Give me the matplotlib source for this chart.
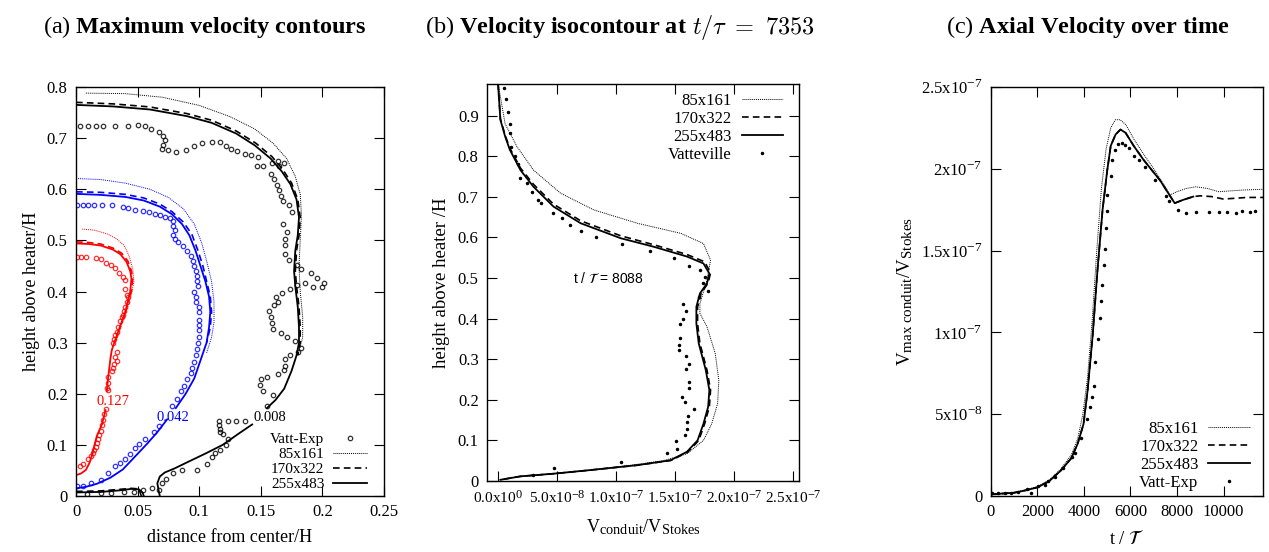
import numpy as np
import matplotlib
matplotlib.use("Agg")
import matplotlib.pyplot as plt
import matplotlib._mathtext as mathtext_core

plt.rcParams['font.family'] = ['Liberation Serif', 'DejaVu Serif']
plt.rcParams['mathtext.fontset'] = 'custom'
plt.rcParams['mathtext.rm'] = 'Liberation Serif'
plt.rcParams['mathtext.it'] = 'Liberation Serif:italic'
plt.rcParams['mathtext.bf'] = 'Liberation Serif:bold'
# gnuplot-like sub/superscripts are a bit larger than mathtext's default
mathtext_core.SHRINK_FACTOR = 0.8

# ---------------- (a) contours: distance from center / height ----------------
# 0.127 contour (red)
red_fine_top_x = [0.0, 0.010, 0.020, 0.030, 0.036, 0.041, 0.044, 0.045, 0.044, 0.042, 0.040, 0.037, 0.034, 0.031, 0.029, 0.028, 0.027, 0.026, 0.025]
red_fine_top_y = [0.494, 0.493, 0.490, 0.482, 0.473, 0.458, 0.440, 0.425, 0.400, 0.380, 0.360, 0.340, 0.320, 0.300, 0.285, 0.270, 0.250, 0.230, 0.205]
red_fine_bot_x = [0.024, 0.021, 0.017, 0.015, 0.013, 0.011, 0.008, 0.004, 0.0]
red_fine_bot_y = [0.168, 0.140, 0.118, 0.100, 0.080, 0.065, 0.051, 0.044, 0.041]
red_mid_x = [0.0, 0.010, 0.020, 0.030, 0.037, 0.042, 0.045, 0.046, 0.045, 0.042, 0.040]
red_mid_y = [0.497, 0.496, 0.493, 0.485, 0.475, 0.460, 0.440, 0.425, 0.400, 0.380, 0.360]
red_coarse_x = [0.005, 0.015, 0.025, 0.033, 0.039, 0.043, 0.046, 0.047, 0.045, 0.042, 0.039, 0.035, 0.032]
red_coarse_y = [0.522, 0.520, 0.513, 0.503, 0.490, 0.470, 0.445, 0.420, 0.395, 0.370, 0.350, 0.320, 0.300]
red_exp_x = [0.001, 0.004, 0.008, 0.016, 0.020, 0.024, 0.028, 0.032, 0.035, 0.038, 0.040, 0.040, 0.041, 0.042, 0.041,
             0.040, 0.039, 0.038, 0.037, 0.036, 0.034, 0.033, 0.032, 0.031, 0.030, 0.033, 0.032, 0.033, 0.031, 0.030,
             0.029, 0.026, 0.026, 0.025, 0.026, 0.024, 0.023, 0.022, 0.021, 0.020, 0.019, 0.018, 0.017, 0.016, 0.015,
             0.014, 0.012, 0.010, 0.006, 0.003]
red_exp_y = [0.468, 0.467, 0.467, 0.465, 0.464, 0.455, 0.452, 0.446, 0.437, 0.429, 0.422, 0.405, 0.393, 0.389, 0.380,
             0.370, 0.362, 0.355, 0.350, 0.342, 0.330, 0.320, 0.315, 0.308, 0.300, 0.282, 0.272, 0.265, 0.258, 0.250,
             0.245, 0.232, 0.222, 0.212, 0.207, 0.170, 0.160, 0.148, 0.138, 0.128, 0.120, 0.112, 0.104, 0.096, 0.090,
             0.085, 0.078, 0.072, 0.062, 0.058]

# 0.042 contour (blue)
blue_fine_top_x = [0.0, 0.020, 0.040, 0.055, 0.068, 0.078, 0.086, 0.092, 0.097, 0.101, 0.105, 0.108, 0.109, 0.108, 0.106, 0.101, 0.096, 0.089, 0.081]
blue_fine_top_y = [0.591, 0.589, 0.585, 0.578, 0.566, 0.551, 0.532, 0.510, 0.480, 0.450, 0.420, 0.390, 0.360, 0.330, 0.300, 0.265, 0.230, 0.200, 0.172]
blue_fine_bot_x = [0.074, 0.066, 0.058, 0.049, 0.038, 0.028, 0.017, 0.008, 0.0]
blue_fine_bot_y = [0.150, 0.125, 0.103, 0.080, 0.052, 0.036, 0.024, 0.018, 0.015]
blue_mid_x = [0.0, 0.020, 0.040, 0.055, 0.068, 0.078, 0.087, 0.094, 0.099, 0.103, 0.106, 0.109, 0.110, 0.109, 0.106]
blue_mid_y = [0.595, 0.594, 0.590, 0.583, 0.571, 0.556, 0.536, 0.512, 0.480, 0.450, 0.420, 0.390, 0.360, 0.330, 0.300]
blue_coarse_x = [0.0, 0.020, 0.040, 0.060, 0.075, 0.087, 0.096, 0.102, 0.106, 0.110, 0.112, 0.112, 0.110, 0.106]
blue_coarse_y = [0.621, 0.619, 0.612, 0.600, 0.584, 0.562, 0.532, 0.495, 0.460, 0.420, 0.380, 0.340, 0.310, 0.280]
blue_exp_x = [0.001, 0.006, 0.010, 0.015, 0.021, 0.029, 0.038, 0.042, 0.048, 0.054, 0.059, 0.064, 0.068, 0.072, 0.076,
              0.079, 0.079, 0.080, 0.079, 0.080, 0.083, 0.087, 0.090, 0.093, 0.095, 0.096, 0.097, 0.098, 0.098, 0.099,
              0.096, 0.097, 0.097, 0.100, 0.100, 0.100, 0.100, 0.100, 0.100, 0.099, 0.098, 0.097, 0.096, 0.094, 0.093,
              0.090, 0.088, 0.085, 0.082, 0.078, 0.067, 0.063, 0.056, 0.051, 0.048, 0.044, 0.040, 0.036, 0.032, 0.026,
              0.020, 0.012, 0.006, 0.001]
blue_exp_y = [0.570, 0.569, 0.570, 0.569, 0.570, 0.570, 0.565, 0.563, 0.560, 0.558, 0.555, 0.552, 0.549, 0.546, 0.544,
              0.538, 0.528, 0.520, 0.510, 0.503, 0.497, 0.489, 0.480, 0.470, 0.460, 0.450, 0.440, 0.430, 0.420, 0.410,
              0.400, 0.390, 0.380, 0.370, 0.360, 0.345, 0.335, 0.324, 0.312, 0.300, 0.288, 0.275, 0.262, 0.250, 0.240,
              0.228, 0.215, 0.205, 0.190, 0.177, 0.136, 0.125, 0.112, 0.102, 0.093, 0.083, 0.073, 0.064, 0.058, 0.046,
              0.031, 0.026, 0.020, 0.020]

# 0.008 contour (black)
blk_fine_top_x = [0.0, 0.030, 0.060, 0.090, 0.110, 0.130, 0.145, 0.158, 0.167, 0.174, 0.179, 0.181, 0.180, 0.178, 0.177,
                  0.178, 0.180, 0.181, 0.181, 0.179, 0.175, 0.169, 0.162, 0.155]
blk_fine_top_y = [0.765, 0.762, 0.756, 0.743, 0.730, 0.709, 0.686, 0.660, 0.635, 0.610, 0.580, 0.545, 0.510, 0.480, 0.440,
                  0.410, 0.370, 0.330, 0.300, 0.275, 0.245, 0.210, 0.188, 0.172]
blk_fine_bot_x = [0.143, 0.132, 0.119, 0.105, 0.092, 0.080, 0.072, 0.068, 0.066, 0.067, 0.068]
blk_fine_bot_y = [0.140, 0.122, 0.100, 0.083, 0.068, 0.054, 0.046, 0.038, 0.025, 0.012, 0.0]
blk_fine_low_x = [0.0, 0.020, 0.035, 0.045, 0.051, 0.054, 0.055]
blk_fine_low_y = [0.007, 0.008, 0.011, 0.014, 0.013, 0.007, 0.0]
blk_mid_x = [0.0, 0.030, 0.060, 0.090, 0.110, 0.130, 0.146, 0.159, 0.168, 0.175, 0.180, 0.182, 0.181, 0.179, 0.178,
             0.179, 0.181, 0.182, 0.182, 0.180]
blk_mid_y = [0.770, 0.767, 0.761, 0.748, 0.735, 0.714, 0.690, 0.664, 0.638, 0.612, 0.580, 0.545, 0.510, 0.480, 0.440,
             0.410, 0.370, 0.330, 0.300, 0.275]
blk_mid_low_x = [0.0, 0.020, 0.035, 0.045, 0.051, 0.053]
blk_mid_low_y = [0.009, 0.010, 0.013, 0.015, 0.014, 0.0]
blk_coarse_x = [0.008, 0.040, 0.070, 0.100, 0.125, 0.145, 0.160, 0.171, 0.178, 0.182, 0.183, 0.182, 0.181, 0.182, 0.184, 0.184, 0.181]
blk_coarse_y = [0.788, 0.787, 0.780, 0.764, 0.742, 0.718, 0.690, 0.660, 0.625, 0.590, 0.550, 0.500, 0.450, 0.400, 0.350, 0.310, 0.285]
blk_exp_x = [0.003, 0.010, 0.016, 0.022, 0.032, 0.042, 0.050, 0.056, 0.061, 0.067, 0.071, 0.072, 0.071, 0.070, 0.075,
             0.081, 0.089, 0.096, 0.102, 0.110, 0.117, 0.122, 0.126, 0.131, 0.137, 0.142, 0.148, 0.147, 0.152, 0.159,
             0.164, 0.169, 0.165, 0.158, 0.161, 0.163, 0.165, 0.166, 0.168, 0.173, 0.175, 0.168, 0.171, 0.170, 0.170,
             0.170, 0.173, 0.179, 0.183, 0.191, 0.196, 0.186, 0.179, 0.192, 0.200, 0.201, 0.174, 0.167, 0.162, 0.164,
             0.161, 0.157, 0.158, 0.159, 0.160, 0.166, 0.171, 0.178, 0.183, 0.180, 0.174, 0.170, 0.170, 0.169, 0.164,
             0.155, 0.150, 0.149, 0.152, 0.160, 0.155, 0.116, 0.123, 0.130, 0.137, 0.116, 0.117, 0.117, 0.119, 0.123,
             0.122, 0.117, 0.113, 0.110, 0.106, 0.098, 0.086, 0.079, 0.073, 0.070, 0.062, 0.067, 0.054, 0.047, 0.039,
             0.028, 0.020, 0.009]
blk_exp_y = [0.723, 0.723, 0.724, 0.724, 0.724, 0.724, 0.725, 0.723, 0.717, 0.712, 0.704, 0.696, 0.686, 0.679, 0.677,
             0.672, 0.676, 0.684, 0.691, 0.693, 0.693, 0.684, 0.679, 0.674, 0.668, 0.667, 0.663, 0.645, 0.645, 0.651,
             0.655, 0.651, 0.645, 0.629, 0.621, 0.608, 0.598, 0.587, 0.578, 0.570, 0.556, 0.533, 0.516, 0.502, 0.491,
             0.473, 0.461, 0.451, 0.445, 0.437, 0.426, 0.417, 0.413, 0.409, 0.408, 0.417, 0.404, 0.398, 0.389, 0.379,
             0.373, 0.361, 0.351, 0.338, 0.327, 0.318, 0.311, 0.304, 0.290, 0.281, 0.275, 0.268, 0.255, 0.246, 0.239,
             0.233, 0.229, 0.218, 0.205, 0.198, 0.177, 0.147, 0.147, 0.146, 0.146, 0.138, 0.131, 0.126, 0.122, 0.111,
             0.099, 0.090, 0.084, 0.077, 0.062, 0.051, 0.051, 0.046, 0.033, 0.025, 0.015, 0.011, 0.011, 0.008, 0.008,
             0.005, 0.005, 0.004]

# ---------------- (b) velocity profile (units of 1e-7) ----------------
vb_fine = [0.0, 0.02, 0.06, 0.10, 0.19, 0.30, 0.47, 0.70, 1.04, 1.32, 1.60, 1.74, 1.79, 1.77, 1.71, 1.68, 1.68, 1.70,
           1.76, 1.79, 1.78, 1.74, 1.69, 1.60, 1.46, 1.18, 0.75, 0.47, 0.19, 0.02]
hb_fine = [0.98, 0.89, 0.849, 0.816, 0.766, 0.725, 0.676, 0.635, 0.598, 0.577, 0.553, 0.536, 0.511, 0.487, 0.462, 0.429,
           0.388, 0.339, 0.273, 0.224, 0.183, 0.141, 0.10, 0.072, 0.051, 0.039, 0.026, 0.018, 0.0115, 0.003]
vb_mid = [0.0, 0.02, 0.06, 0.10, 0.19, 0.30, 0.47, 0.70, 1.04, 1.32, 1.60, 1.75, 1.80, 1.78, 1.72, 1.69, 1.69, 1.71,
          1.77, 1.80, 1.79, 1.75, 1.70, 1.61, 1.47, 1.18, 0.75, 0.47, 0.19, 0.02]
hb_mid = [0.98, 0.892, 0.852, 0.82, 0.771, 0.731, 0.682, 0.641, 0.604, 0.582, 0.558, 0.54, 0.513, 0.488, 0.462, 0.429,
          0.388, 0.339, 0.273, 0.224, 0.183, 0.141, 0.10, 0.072, 0.051, 0.039, 0.026, 0.018, 0.0115, 0.003]
vb_coarse = [0.0, 0.06, 0.16, 0.30, 0.53, 0.81, 1.18, 1.55, 1.74, 1.80, 1.77, 1.71, 1.71, 1.77, 1.84, 1.87, 1.86, 1.81,
             1.74, 1.60, 1.40, 1.10, 0.75, 0.45, 0.19, 0.02]
hb_coarse = [0.98, 0.88, 0.824, 0.766, 0.709, 0.668, 0.635, 0.61, 0.585, 0.544, 0.495, 0.437, 0.413, 0.38, 0.314, 0.248,
             0.191, 0.141, 0.10, 0.067, 0.050, 0.038, 0.026, 0.018, 0.0115, 0.003]
vb_exp = [0.054, 0.07, 0.085, 0.105, 0.10, 0.113, 0.147, 0.167, 0.19, 0.246, 0.29, 0.336, 0.364, 0.466, 0.54, 0.61, 0.70,
          0.83, 1.05, 1.285, 1.49, 1.62, 1.71, 1.75, 1.74, 1.78, 1.70, 1.565, 1.59, 1.565, 1.54, 1.54, 1.53, 1.53, 1.59,
          1.62, 1.59, 1.62, 1.62, 1.56, 1.58, 1.66, 1.61, 1.60, 1.60, 1.58, 1.51, 1.52, 1.43, 1.045, 0.47, 0.30]
hb_exp = [0.968, 0.94, 0.91, 0.88, 0.857, 0.824, 0.80, 0.78, 0.746, 0.733, 0.713, 0.692, 0.684, 0.661, 0.647, 0.63, 0.616,
          0.60, 0.584, 0.567, 0.549, 0.53, 0.521, 0.503, 0.487, 0.469, 0.454, 0.435, 0.419, 0.40, 0.387, 0.353, 0.336,
          0.322, 0.308, 0.288, 0.275, 0.245, 0.228, 0.207, 0.195, 0.178, 0.16, 0.146, 0.127, 0.114, 0.098, 0.08, 0.069,
          0.047, 0.033, 0.016]

# ---------------- (c) max axial velocity vs time (units of 1e-7) ----------------
tc_fine = [0, 500, 1000, 1500, 2000, 2500, 3000, 3450, 3730, 3980, 4160, 4370, 4580, 4800, 5000, 5150, 5360, 5570,
           5790, 6140, 6560, 7270, 7900, 8260, 8700]
vc_fine = [0.01, 0.015, 0.02, 0.035, 0.053, 0.09, 0.155, 0.23, 0.32, 0.44, 0.65, 0.975, 1.38, 1.75, 1.99, 2.14, 2.21,
           2.24, 2.22, 2.14, 2.055, 1.93, 1.79, 1.81, 1.83]
tc_mid = [0, 500, 1000, 1500, 2000, 2500, 3000, 3450, 3730, 3980, 4160, 4370, 4580, 4800, 5000, 5150, 5360, 5570, 5790,
          6140, 6560, 7270, 7900, 8260, 8700, 9000, 9500, 10000, 10500, 11000, 11700]
vc_mid = [0.01, 0.015, 0.02, 0.035, 0.053, 0.09, 0.155, 0.23, 0.32, 0.44, 0.65, 0.975, 1.38, 1.75, 1.99, 2.14, 2.21,
          2.24, 2.22, 2.14, 2.055, 1.93, 1.79, 1.81, 1.83, 1.835, 1.83, 1.815, 1.82, 1.825, 1.825]
tc_coarse = [0, 500, 1000, 1500, 2000, 2500, 3000, 3450, 3730, 3950, 4150, 4350, 4550, 4750, 4950, 5150, 5350, 5550,
             5800, 6150, 6560, 7000, 7400, 7700, 8000, 8400, 8800, 9300, 9800, 10300, 10800, 11700]
vc_coarse = [0.012, 0.017, 0.023, 0.038, 0.058, 0.097, 0.165, 0.25, 0.35, 0.50, 0.72, 1.07, 1.50, 1.88, 2.12, 2.25,
             2.30, 2.30, 2.27, 2.18, 2.09, 2.00, 1.91, 1.84, 1.86, 1.88, 1.89, 1.88, 1.86, 1.865, 1.87, 1.875]
tc_exp = [57, 297, 594, 877, 1160, 1570, 1711, 2037, 2320, 2461, 2744, 3098, 3479, 3621, 3876, 4116, 4257, 4328, 4413,
          4484, 4583, 4682, 4724, 4795, 4866, 4894, 4965, 4979, 5007, 5148, 5191, 5332, 5460, 5615, 5785, 5926, 6139,
          6351, 6634, 7058, 7525, 7666, 8048, 8402, 8826, 9392, 9816, 10170, 10523, 10806, 11160, 11372]
vc_exp = [0.016, 0.016, 0.020, 0.020, 0.022, 0.041, 0.020, 0.061, 0.067, 0.094, 0.114, 0.169, 0.237, 0.261, 0.353,
          0.471, 0.547, 0.604, 0.675, 0.818, 0.959, 1.087, 1.195, 1.291, 1.409, 1.511, 1.637, 1.743, 1.839, 1.953,
          2.051, 2.117, 2.153, 2.157, 2.147, 2.127, 2.080, 2.055, 2.011, 1.933, 1.831, 1.801, 1.746, 1.729, 1.733,
          1.739, 1.733, 1.733, 1.729, 1.744, 1.739, 1.744]

grid_labels = ['85x161', '170x322', '255x483']

DOT = (0, (1, 1))
DASH = (0, (4, 2.5))


def style_axes(ax, size):
    ax.tick_params(direction='in', top=True, right=True, length=7, width=0.8, labelsize=size, pad=6)
    for s in ax.spines.values():
        s.set_linewidth(1.0)


fig = plt.figure(figsize=(12.69, 5.52), dpi=100)

# ---------- panel (a) ----------
ax1 = fig.add_axes([0.0599, 0.1014, 0.2427, 0.741])
for col, fine, mid, coarse, exp in [
        ('red', [(red_fine_top_x, red_fine_top_y), (red_fine_bot_x, red_fine_bot_y)],
         [(red_mid_x, red_mid_y)], (red_coarse_x, red_coarse_y), (red_exp_x, red_exp_y)),
        ('blue', [(blue_fine_top_x, blue_fine_top_y), (blue_fine_bot_x, blue_fine_bot_y)],
         [(blue_mid_x, blue_mid_y)], (blue_coarse_x, blue_coarse_y), (blue_exp_x, blue_exp_y)),
        ('black', [(blk_fine_top_x, blk_fine_top_y), (blk_fine_bot_x, blk_fine_bot_y), (blk_fine_low_x, blk_fine_low_y)],
         [(blk_mid_x, blk_mid_y), (blk_mid_low_x, blk_mid_low_y)], (blk_coarse_x, blk_coarse_y), (blk_exp_x, blk_exp_y))]:
    ax1.plot(exp[0], exp[1], 'o', ms=3.2, mfc='none', mec=col, mew=0.9, alpha=0.8)
    ax1.plot(coarse[0], coarse[1], color=col, ls=DOT, lw=0.7)
    for xs, ys in mid:
        ax1.plot(xs, ys, color=col, ls=DASH, lw=1.2)
    for xs, ys in fine:
        ax1.plot(xs, ys, color=col, lw=1.3)

ax1.text(0.030, 0.185, '0.127', color='red', fontsize=10.5, ha='center', va='center')
ax1.text(0.079, 0.154, '0.042', color='blue', fontsize=10.5, ha='center', va='center')
ax1.text(0.157, 0.154, '0.008', color='black', fontsize=10.5, ha='center', va='center')

h_exp, = ax1.plot([], [], 'o', ms=3.2, mfc='none', mec='black', mew=0.9, alpha=0.8)
h1, = ax1.plot([], [], color='black', ls=DOT, lw=0.7)
h2, = ax1.plot([], [], color='black', ls=DASH, lw=1.2)
h3, = ax1.plot([], [], color='black', lw=1.3)
ax1.legend([h_exp, h1, h2, h3], ['Vatt-Exp'] + grid_labels, loc='lower right', bbox_to_anchor=(0.945, 0.012),
           frameon=False, markerfirst=False, fontsize=11, handlelength=2.2, handletextpad=0.6,
           labelspacing=0.08, borderpad=0, borderaxespad=0)
ax1.set_xlim(0, 0.25)
ax1.set_ylim(0, 0.8)
ax1.set_xticks([0, 0.05, 0.1, 0.15, 0.2, 0.25])
ax1.set_xticklabels(['0', '0.05', '0.1', '0.15', '0.2', '0.25'])
ax1.set_yticks(np.arange(0, 0.81, 0.1))
ax1.set_yticklabels(['0', '0.1', '0.2', '0.3', '0.4', '0.5', '0.6', '0.7', '0.8'])
ax1.set_xlabel('distance from center/H', fontsize=13, labelpad=6)
ax1.set_ylabel('height above heater/H', fontsize=13, labelpad=5)
style_axes(ax1, 12)

# ---------- panel (b) ----------
ax2 = fig.add_axes([0.3838, 0.1286, 0.2459, 0.7192])
ax2.plot(vb_coarse, hb_coarse, color='black', ls=DOT, lw=0.7, label=grid_labels[0])
ax2.plot(vb_mid, hb_mid, color='black', ls=DASH, lw=1.2, label=grid_labels[1])
ax2.plot(vb_fine, hb_fine, color='black', lw=1.3, label=grid_labels[2])
ax2.plot(vb_exp, hb_exp, '.', color='black', ms=3, label='Vatteville')
ax2.text(0.93, 0.5, r't / $\mathcal{T}$ = 8088', fontsize=10, ha='center', va='center',
         family='Liberation Sans', math_fontfamily='stix')
ax2.legend(loc='upper right', bbox_to_anchor=(0.949, 0.978), frameon=False, markerfirst=False, fontsize=12,
           handlelength=2.5, handletextpad=0.6, labelspacing=0.12, borderpad=0, borderaxespad=0)
ax2.set_xlim(-0.093, 2.55)
ax2.set_ylim(0, 0.978)
ax2.set_xticks([0, 0.5, 1.0, 1.5, 2.0, 2.5])
ax2.set_xticklabels([r'0.0x10$^{0}$', r'5.0x10$^{-8}$', r'1.0x10$^{-7}$', r'1.5x10$^{-7}$',
                     r'2.0x10$^{-7}$', r'2.5x10$^{-7}$'])
ax2.set_yticks(np.arange(0, 0.91, 0.1))
ax2.set_yticklabels(['0', '0.1', '0.2', '0.3', '0.4', '0.5', '0.6', '0.7', '0.8', '0.9'])
ax2.set_xlabel(r'V$_{\rm conduit}$/V$_{\rm Stokes}$', fontsize=13, labelpad=8)
ax2.set_ylabel('height above heater /H', fontsize=13.5, labelpad=6)
style_axes(ax2, 12)
ax2.tick_params(axis='x', labelsize=11)

# ---------- panel (c) ----------
ax3 = fig.add_axes([0.7809, 0.1014, 0.2144, 0.741])
ax3.plot(tc_coarse, vc_coarse, color='black', ls=DOT, lw=0.7, label=grid_labels[0])
ax3.plot(tc_mid, vc_mid, color='black', ls=DASH, lw=1.2, label=grid_labels[1])
ax3.plot(tc_fine, vc_fine, color='black', lw=1.3, label=grid_labels[2])
ax3.plot(tc_exp, vc_exp, '.', color='black', ms=3, label='Vatt-Exp')
ax3.legend(loc='lower right', bbox_to_anchor=(0.952, 0.012), frameon=False, markerfirst=False, fontsize=12,
           handlelength=2.5, handletextpad=0.6, labelspacing=0.12, borderpad=0, borderaxespad=0)
ax3.set_xlim(0, 11700)
ax3.set_ylim(0, 2.5)
ax3.set_xticks([0, 2000, 4000, 6000, 8000, 10000])
ax3.set_xticklabels(['0', '2000', '4000', '6000', '8000', '10000'])
ax3.set_yticks([0, 0.5, 1.0, 1.5, 2.0, 2.5])
ax3.set_yticklabels(['0', r'5x10$^{-8}$', r'1x10$^{-7}$', r'1.5x10$^{-7}$', r'2x10$^{-7}$', r'2.5x10$^{-7}$'])
ax3.set_xlabel(r't / $\mathcal{T}$', fontsize=13.5, labelpad=6, math_fontfamily='stix')
ax3.set_ylabel(r'V$_{\rm max\ conduit}$/V$_{\rm Stokes}$', fontsize=13.5, labelpad=4)
style_axes(ax3, 12)

# ---------- titles ----------
fig.text(0.1615, 0.951, r'(a) $\mathbf{Maximum\ velocity\ contours}$', fontsize=17.5, ha='center', va='center')
fig.text(0.857, 0.951, r'(c) $\mathbf{Axial\ Velocity\ over\ time}$', fontsize=17.5, ha='center', va='center')
tb = fig.text(0.3349, 0.951, r'(b) $\mathbf{Velocity\ isocontour\ at}$', fontsize=17.5, ha='left', va='center')
fig.canvas.draw()
bb = tb.get_window_extent().transformed(fig.transFigure.inverted())
fig.text(bb.x1 + 0.004, 0.951, r'$t/\tau\ =\ 7353$', fontsize=17.5, ha='left', va='center', math_fontfamily='cm')

fig.savefig('out.png', dpi=100)
